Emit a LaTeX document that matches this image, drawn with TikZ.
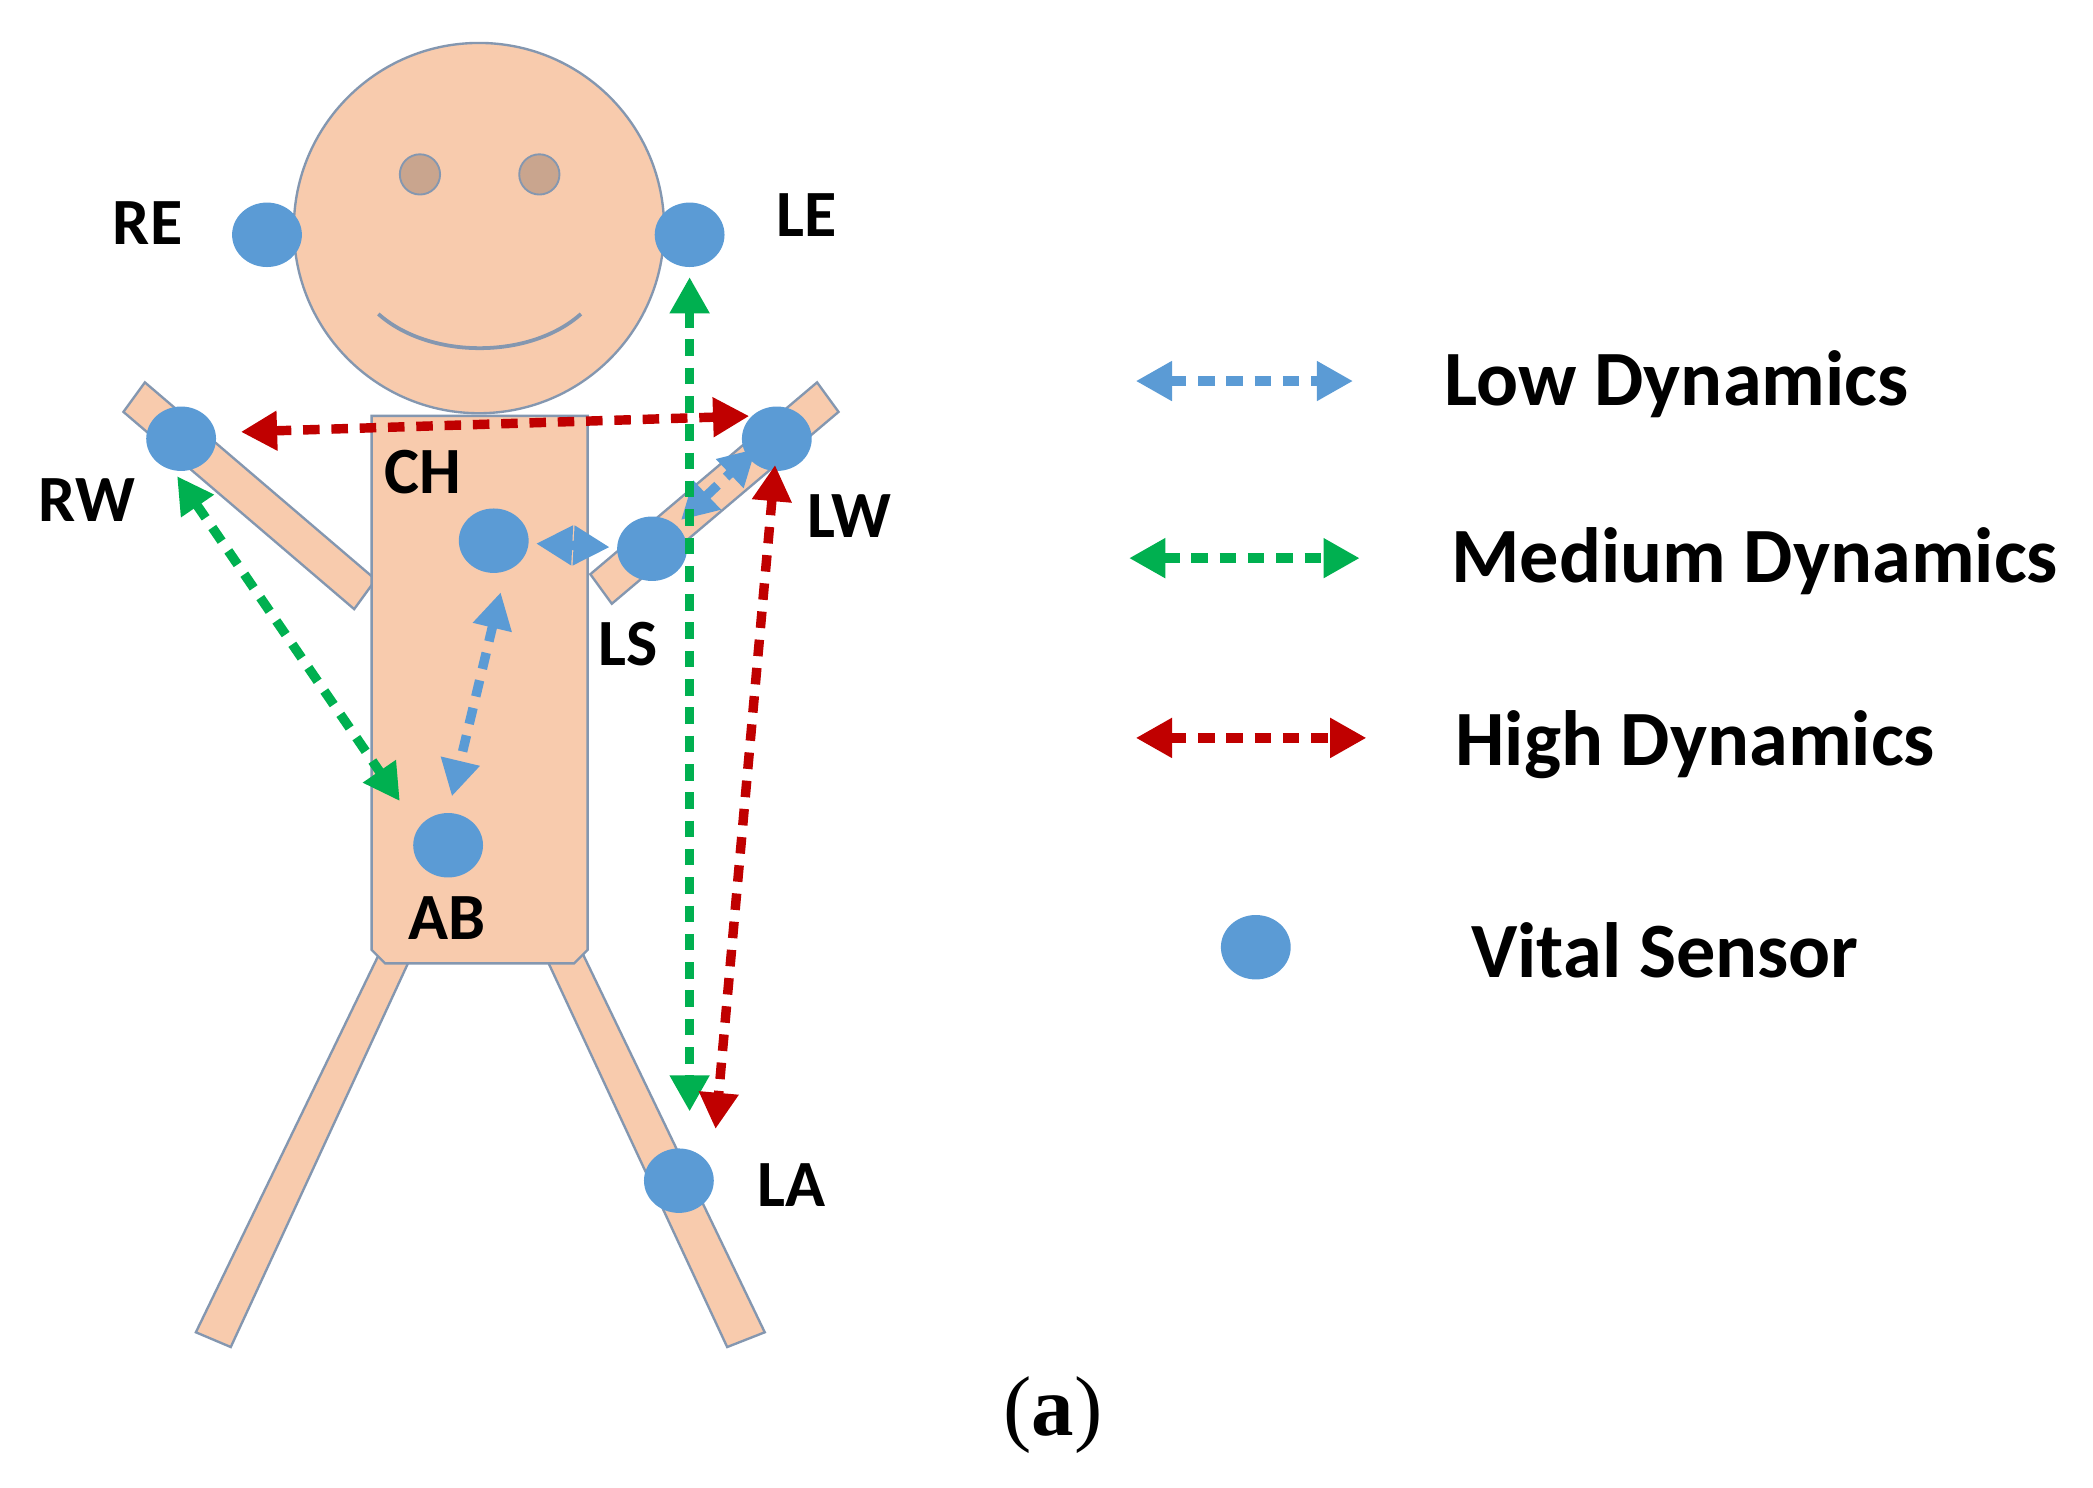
\documentclass[tikz,border=0pt]{standalone}
\usepackage{fontspec}
\setmainfont{Carlito}
\newfontfamily\serifa{Liberation Serif}
\usetikzlibrary{arrows.meta,shapes.geometric}
\definecolor{skin}{HTML}{F8CBAD}
\definecolor{edge}{HTML}{8497B0}
\definecolor{sens}{HTML}{5B9BD5}
\definecolor{eye}{HTML}{C9A58E}
\definecolor{lowc}{HTML}{5B9BD5}
\definecolor{medc}{HTML}{00B050}
\definecolor{highc}{HTML}{C00000}
\begin{document}
\begin{tikzpicture}[x=0.01cm,y=-0.01cm,
  body/.style={fill=skin,draw=edge,line width=0.5pt},
  sensor/.style={ellipse,fill=sens,minimum width=0.52cm,minimum height=0.48cm,inner sep=0pt},
  lab/.style={font=\fontsize{14}{14}\selectfont\bfseries},
  leg/.style={font=\fontsize{16.6}{17}\selectfont\bfseries,anchor=west,inner sep=0pt},
  dyn/.style={line width=2pt,dash pattern=on 3.5pt off 2.5pt,
    {Triangle[length=0.27cm,width=0.28cm]}-{Triangle[length=0.27cm,width=0.28cm]},shorten <=1pt,shorten >=1pt}]
\useasboundingbox (0,0) rectangle (1560,1109);
\fill[white] (0,0) rectangle (1560,1109);
% arms
\draw[body] (92,307) -- (108,285) -- (280,432) -- (264,454) -- cycle;
\draw[body] (625,307) -- (609,285) -- (440,428) -- (456,450) -- cycle;
% legs
\draw[body] (146,993) -- (285,706) -- (305,716) -- (172,1004) -- cycle;
\draw[body] (570,993) -- (432,706) -- (408,716) -- (542,1004) -- cycle;
% torso
\draw[body] (277,310) -- (438,310) -- (438,708) -- (428,718) -- (287,718) -- (277,708) -- cycle;
% head
\draw[body] (357,170) circle (138);
\draw[fill=eye,draw=edge,line width=0.4pt] (313,130) circle (15);
\draw[fill=eye,draw=edge,line width=0.4pt] (402,130) circle (15);
\draw[edge,line width=0.8pt] (282,234) .. controls (320,268) and (395,268) .. (433,234);
% sensors
\node[sensor] (RE) at (199,175) {};
\node[sensor] (LE) at (514,175) {};
\node[sensor] (RW) at (135,327) {};
\node[sensor] (LW) at (579,327) {};
\node[sensor] (CH) at (368,403) {};
\node[sensor] (LS) at (486,409) {};
\node[sensor] (AB) at (334,630) {};
\node[sensor] (LA) at (506,880) {};
% labels
\node[lab] (tRE) at (110,166) {RE};
\node[lab] (tLE) at (601,160) {LE};
\node[lab] (tRW) at (65,373) {RW};
\node[lab] (tCH) at (315,352) {CH};
\node[lab] (tLW) at (633,385) {LW};
\node[lab] (tLS) at (468,480) {LS};
\node[lab] (tAB) at (333,684) {AB};
\node[lab] (tLA) at (590,883) {LA};
% arrows
\coordinate (r1) at (176,322); \coordinate (r2) at (562,310);
\draw[dyn,highc] (r1) -- (r2);
\coordinate (g1) at (130,352); \coordinate (g2) at (300,600);
\draw[dyn,medc] (g1) -- (g2);
\coordinate (b1) at (374,438); \coordinate (b2) at (336,597);
\draw[dyn,lowc] (b1) -- (b2);
\coordinate (b3) at (396,405); \coordinate (b4) at (458,408);
\draw[dyn,lowc] (b3) -- (b4);
\coordinate (b5) at (505,390); \coordinate (b6) at (566,332);
\draw[dyn,lowc] (b5) -- (b6);
\coordinate (g3) at (514,203); \coordinate (g4) at (514,832);
\draw[dyn,medc] (g3) -- (g4);
\coordinate (r3) at (578,343); \coordinate (r4) at (533,845);
\draw[dyn,highc] (r3) -- (r4);
% legend
\coordinate (l1a) at (843,284); \coordinate (l1b) at (1012,284);
\draw[dyn,lowc] (l1a) -- (l1b);
\node[leg] (L1) at (1076,286) {Low Dynamics};
\coordinate (l2a) at (838,416); \coordinate (l2b) at (1017,416);
\draw[dyn,medc] (l2a) -- (l2b);
\node[leg] (L2) at (1081,418) {Medium Dynamics};
\coordinate (l3a) at (843,550); \coordinate (l3b) at (1022,550);
\draw[dyn,highc] (l3a) -- (l3b);
\node[leg] (L3) at (1084,555) {High Dynamics};
\node[sensor] (VS) at (936,706) {};
\node[leg] (L4) at (1096,708) {Vital Sensor};
\node[font=\serifa\fontsize{18}{18}\selectfont] (cap) at (785,1055) {(\textbf{a})};
\end{tikzpicture}
\end{document}
